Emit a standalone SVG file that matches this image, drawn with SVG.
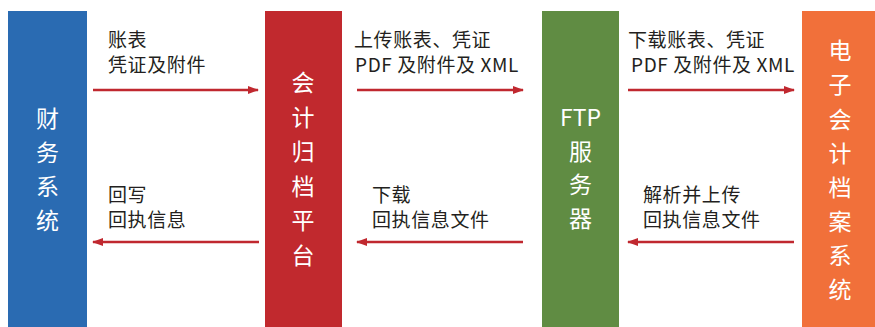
<svg xmlns="http://www.w3.org/2000/svg" width="875" height="327" viewBox="0 0 875 327">
<style>
.lbl{font-family:"Noto Sans CJK SC","Liberation Sans",sans-serif;font-size:19px;fill:#231f20;letter-spacing:0.6px}
.bt{font-family:"Noto Sans CJK SC","Liberation Sans",sans-serif;font-size:23px;fill:#ffffff;text-anchor:middle}
.conn{stroke:#c0282f;stroke-width:2.5;fill:none;marker-end:url(#ah)}
</style>
<defs>
<marker id="ah" viewBox="0 0 11 8" refX="10" refY="4" markerWidth="11" markerHeight="8" markerUnits="userSpaceOnUse" orient="auto">
<path d="M0,0 L11,4 L0,8 z" fill="#c0282f"/>
</marker>
</defs>
<rect width="875" height="327" fill="#ffffff"/>
<g id="finance">
<rect x="8" y="11" width="79" height="316" fill="#2a6bb2"/>
<text class="bt" x="47.5" y="127">财</text>
<text class="bt" x="47.5" y="161">务</text>
<text class="bt" x="47.5" y="195">系</text>
<text class="bt" x="47.5" y="229">统</text>
</g>
<g id="archive-platform">
<rect x="265" y="11" width="77" height="316" fill="#c1292e"/>
<text class="bt" x="303" y="91">会</text>
<text class="bt" x="303" y="125.5">计</text>
<text class="bt" x="303" y="160">归</text>
<text class="bt" x="303" y="194.5">档</text>
<text class="bt" x="303" y="229">平</text>
<text class="bt" x="303" y="263.5">台</text>
</g>
<g id="ftp">
<rect x="542" y="11" width="77" height="316" fill="#608c43"/>
<text class="bt" x="580.5" y="126">FTP</text>
<text class="bt" x="580.5" y="160">服</text>
<text class="bt" x="580.5" y="193">务</text>
<text class="bt" x="580.5" y="227">器</text>
</g>
<g id="e-archive">
<rect x="802" y="11" width="73" height="316" fill="#f1703a"/>
<text class="bt" x="840" y="59">电</text>
<text class="bt" x="840" y="93">子</text>
<text class="bt" x="840" y="128">会</text>
<text class="bt" x="840" y="162">计</text>
<text class="bt" x="840" y="196">档</text>
<text class="bt" x="840" y="230">案</text>
<text class="bt" x="840" y="264">系</text>
<text class="bt" x="840" y="298">统</text>
</g>
<g id="connectors">
<line class="conn" x1="93" y1="90" x2="258" y2="90"/>
<line class="conn" x1="357" y1="90" x2="523" y2="90"/>
<line class="conn" x1="628" y1="90" x2="794" y2="90"/>
<line class="conn" x1="259" y1="242" x2="93" y2="242"/>
<line class="conn" x1="523" y1="242" x2="357" y2="242"/>
<line class="conn" x1="794" y1="242" x2="628" y2="242"/>
</g>
<g id="labels">
<text class="lbl" x="108" y="47">账表</text>
<text class="lbl" x="108" y="72">凭证及附件</text>
<text class="lbl" x="354" y="47">上传账表、凭证</text>
<text class="lbl" x="355" y="72">PDF 及附件及 XML</text>
<text class="lbl" x="628" y="47">下载账表、凭证</text>
<text class="lbl" x="631" y="72">PDF 及附件及 XML</text>
<text class="lbl" x="108" y="202">回写</text>
<text class="lbl" x="108" y="227">回执信息</text>
<text class="lbl" x="372" y="202">下载</text>
<text class="lbl" x="372" y="227">回执信息文件</text>
<text class="lbl" x="643" y="202">解析并上传</text>
<text class="lbl" x="643" y="227">回执信息文件</text>
</g>
</svg>
